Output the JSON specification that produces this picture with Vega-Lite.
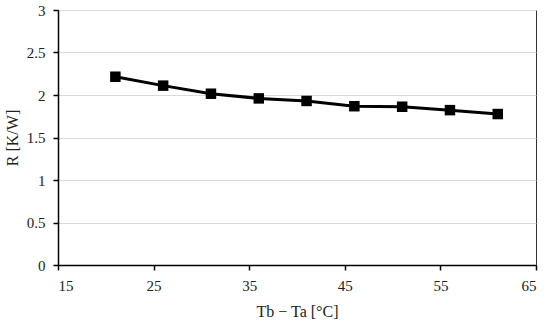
{
  "$schema": "https://vega.github.io/schema/vega-lite/v6.json",
  "autosize": {"type": "none"},
  "width": 478,
  "height": 255,
  "padding": {"left": 58, "top": 10, "right": 14, "bottom": 61},
  "background": "white",
  "config": {
    "font": "Liberation Serif, DejaVu Serif, serif",
    "view": {"stroke": "#333333", "strokeWidth": 1},
    "axis": {
      "labelFont": "Liberation Serif, DejaVu Serif, serif",
      "titleFont": "Liberation Serif, DejaVu Serif, serif",
      "labelFontSize": 15,
      "titleFontSize": 16,
      "labelColor": "#222222",
      "titleColor": "#222222",
      "titleFontWeight": "normal",
      "domainColor": "#000000",
      "tickColor": "#000000",
      "gridColor": "#d9d9d9",
      "gridWidth": 1
    }
  },
  "data": {
    "values": [
      {"dT": 21, "R": 2.215},
      {"dT": 26, "R": 2.11},
      {"dT": 31, "R": 2.015},
      {"dT": 36, "R": 1.96},
      {"dT": 41, "R": 1.93},
      {"dT": 46, "R": 1.868},
      {"dT": 51, "R": 1.862},
      {"dT": 56, "R": 1.822},
      {"dT": 61, "R": 1.776}
    ]
  },
  "mark": {"type": "line", "color": "#000000", "strokeWidth": 3, "point": {"shape": "square", "size": 110, "filled": true, "color": "#000000", "opacity": 1}},
  "encoding": {
    "x": {
      "field": "dT",
      "type": "quantitative",
      "scale": {"domain": [15, 65], "nice": false, "zero": false},
      "axis": {
        "values": [15, 25, 35, 45, 55, 65],
        "grid": false,
        "domainWidth": 1.5,
        "tickSize": 5,
        "tickWidth": 1.5,
        "labelPadding": 8,
        "title": "Tb − Ta [°C]",
        "titlePadding": 10
      }
    },
    "y": {
      "field": "R",
      "type": "quantitative",
      "scale": {"domain": [0, 3], "nice": false},
      "axis": {
        "values": [0, 0.5, 1, 1.5, 2, 2.5, 3],
        "format": "~g",
        "grid": true,
        "domainWidth": 1.5,
        "tickSize": 5,
        "tickWidth": 1.5,
        "labelPadding": 8,
        "title": "R [K/W]",
        "titlePadding": 6
      }
    }
  }
}
